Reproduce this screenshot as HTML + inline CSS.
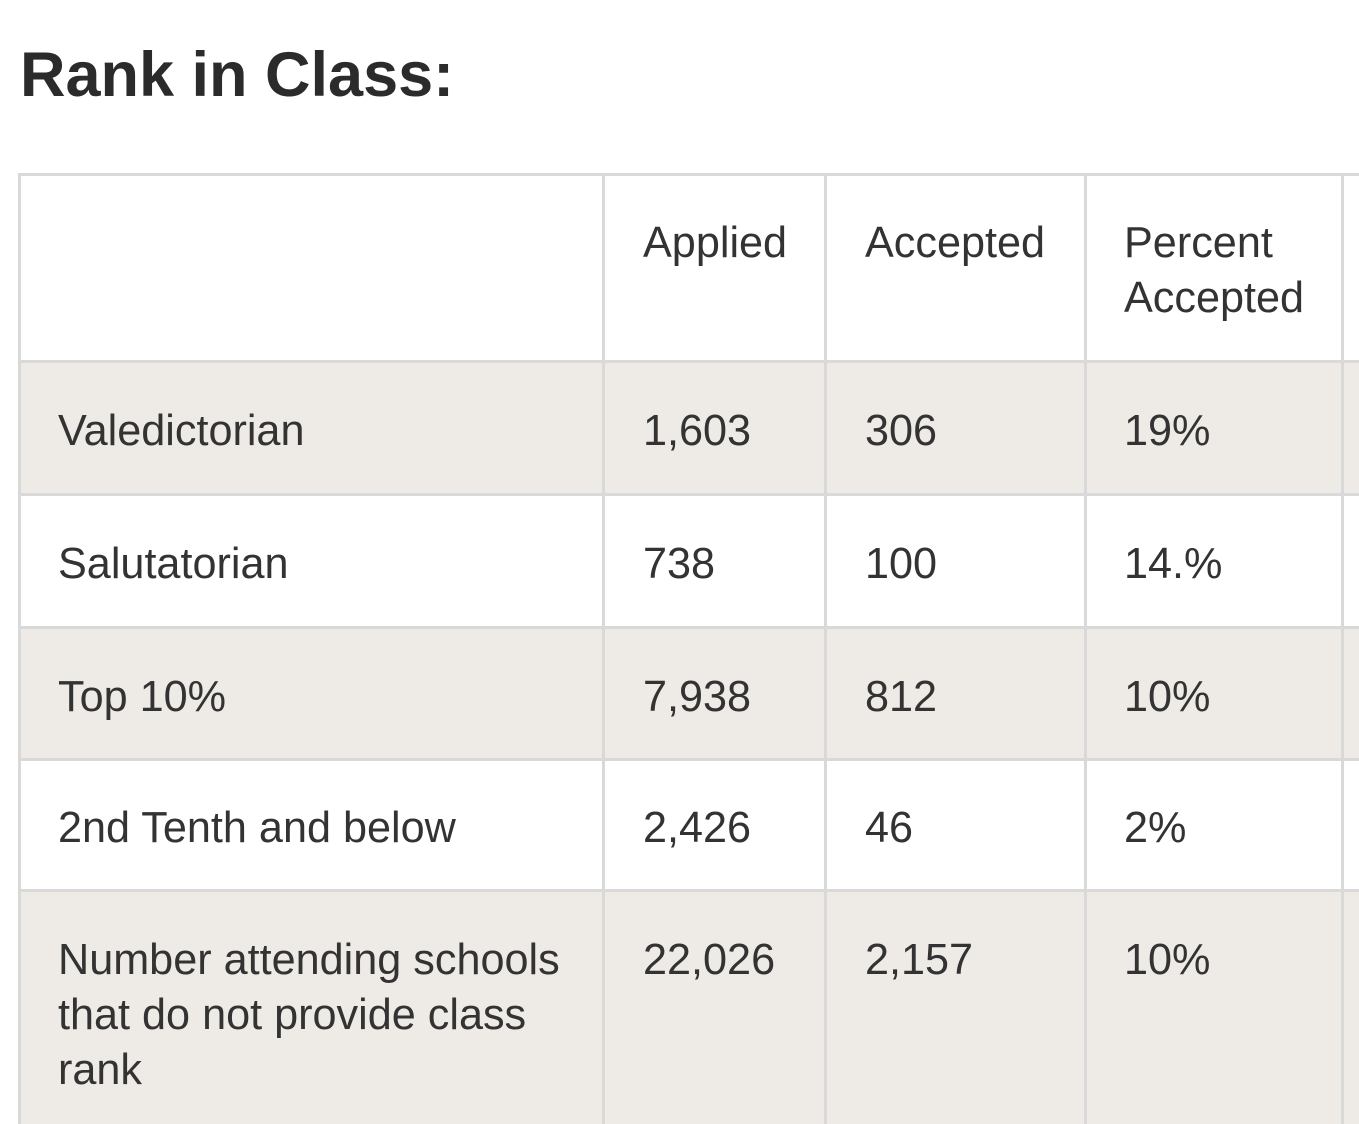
<!DOCTYPE html>
<html><head><meta charset="utf-8"><style>
body{margin:0;width:1359px;height:1124px;overflow:hidden;background:#fff;position:relative;font-family:"Liberation Sans",Arial,sans-serif;color:#333}
.t{position:absolute;font-size:43.2px;line-height:55px;white-space:nowrap}
.h{position:absolute;left:20px;top:38px;font-size:63px;font-weight:bold;color:#2b2b2b;line-height:75px}
.bg{position:absolute;left:19px;width:1340px;background:#eeebe6}
.hl{position:absolute;left:18px;width:1341px;height:3px;background:#d9d9d9}
.vl{position:absolute;top:173px;width:3px;height:951px;background:#d9d9d9}
</style></head><body>
<div class="h">Rank in Class:</div>
<div class="bg" style="top:362px;height:133px"></div>
<div class="bg" style="top:628px;height:132px"></div>
<div class="bg" style="top:891px;height:233px"></div>
<div class="hl" style="top:173px"></div>
<div class="hl" style="top:360px"></div>
<div class="hl" style="top:493px"></div>
<div class="hl" style="top:626px"></div>
<div class="hl" style="top:758px"></div>
<div class="hl" style="top:889px"></div>
<div class="vl" style="left:18px"></div>
<div class="vl" style="left:602px"></div>
<div class="vl" style="left:824px"></div>
<div class="vl" style="left:1084px"></div>
<div class="vl" style="left:1341px"></div>

<div class="t" style="left:643px;top:216px">Applied</div>
<div class="t" style="left:865px;top:216px">Accepted</div>
<div class="t" style="left:1124px;top:216px">Percent<br>Accepted</div>

<div class="t" style="left:58px;top:404px">Valedictorian</div>
<div class="t" style="left:643px;top:404px">1,603</div>
<div class="t" style="left:865px;top:404px">306</div>
<div class="t" style="left:1124px;top:404px">19%</div>

<div class="t" style="left:58px;top:537px">Salutatorian</div>
<div class="t" style="left:643px;top:537px">738</div>
<div class="t" style="left:865px;top:537px">100</div>
<div class="t" style="left:1124px;top:537px">14.%</div>

<div class="t" style="left:58px;top:670px">Top 10%</div>
<div class="t" style="left:643px;top:670px">7,938</div>
<div class="t" style="left:865px;top:670px">812</div>
<div class="t" style="left:1124px;top:670px">10%</div>

<div class="t" style="left:58px;top:801px">2nd Tenth and below</div>
<div class="t" style="left:643px;top:801px">2,426</div>
<div class="t" style="left:865px;top:801px">46</div>
<div class="t" style="left:1124px;top:801px">2%</div>

<div class="t" style="left:58px;top:933px">Number attending schools<br>that do not provide class<br>rank</div>
<div class="t" style="left:643px;top:933px">22,026</div>
<div class="t" style="left:865px;top:933px">2,157</div>
<div class="t" style="left:1124px;top:933px">10%</div>
</body></html>
